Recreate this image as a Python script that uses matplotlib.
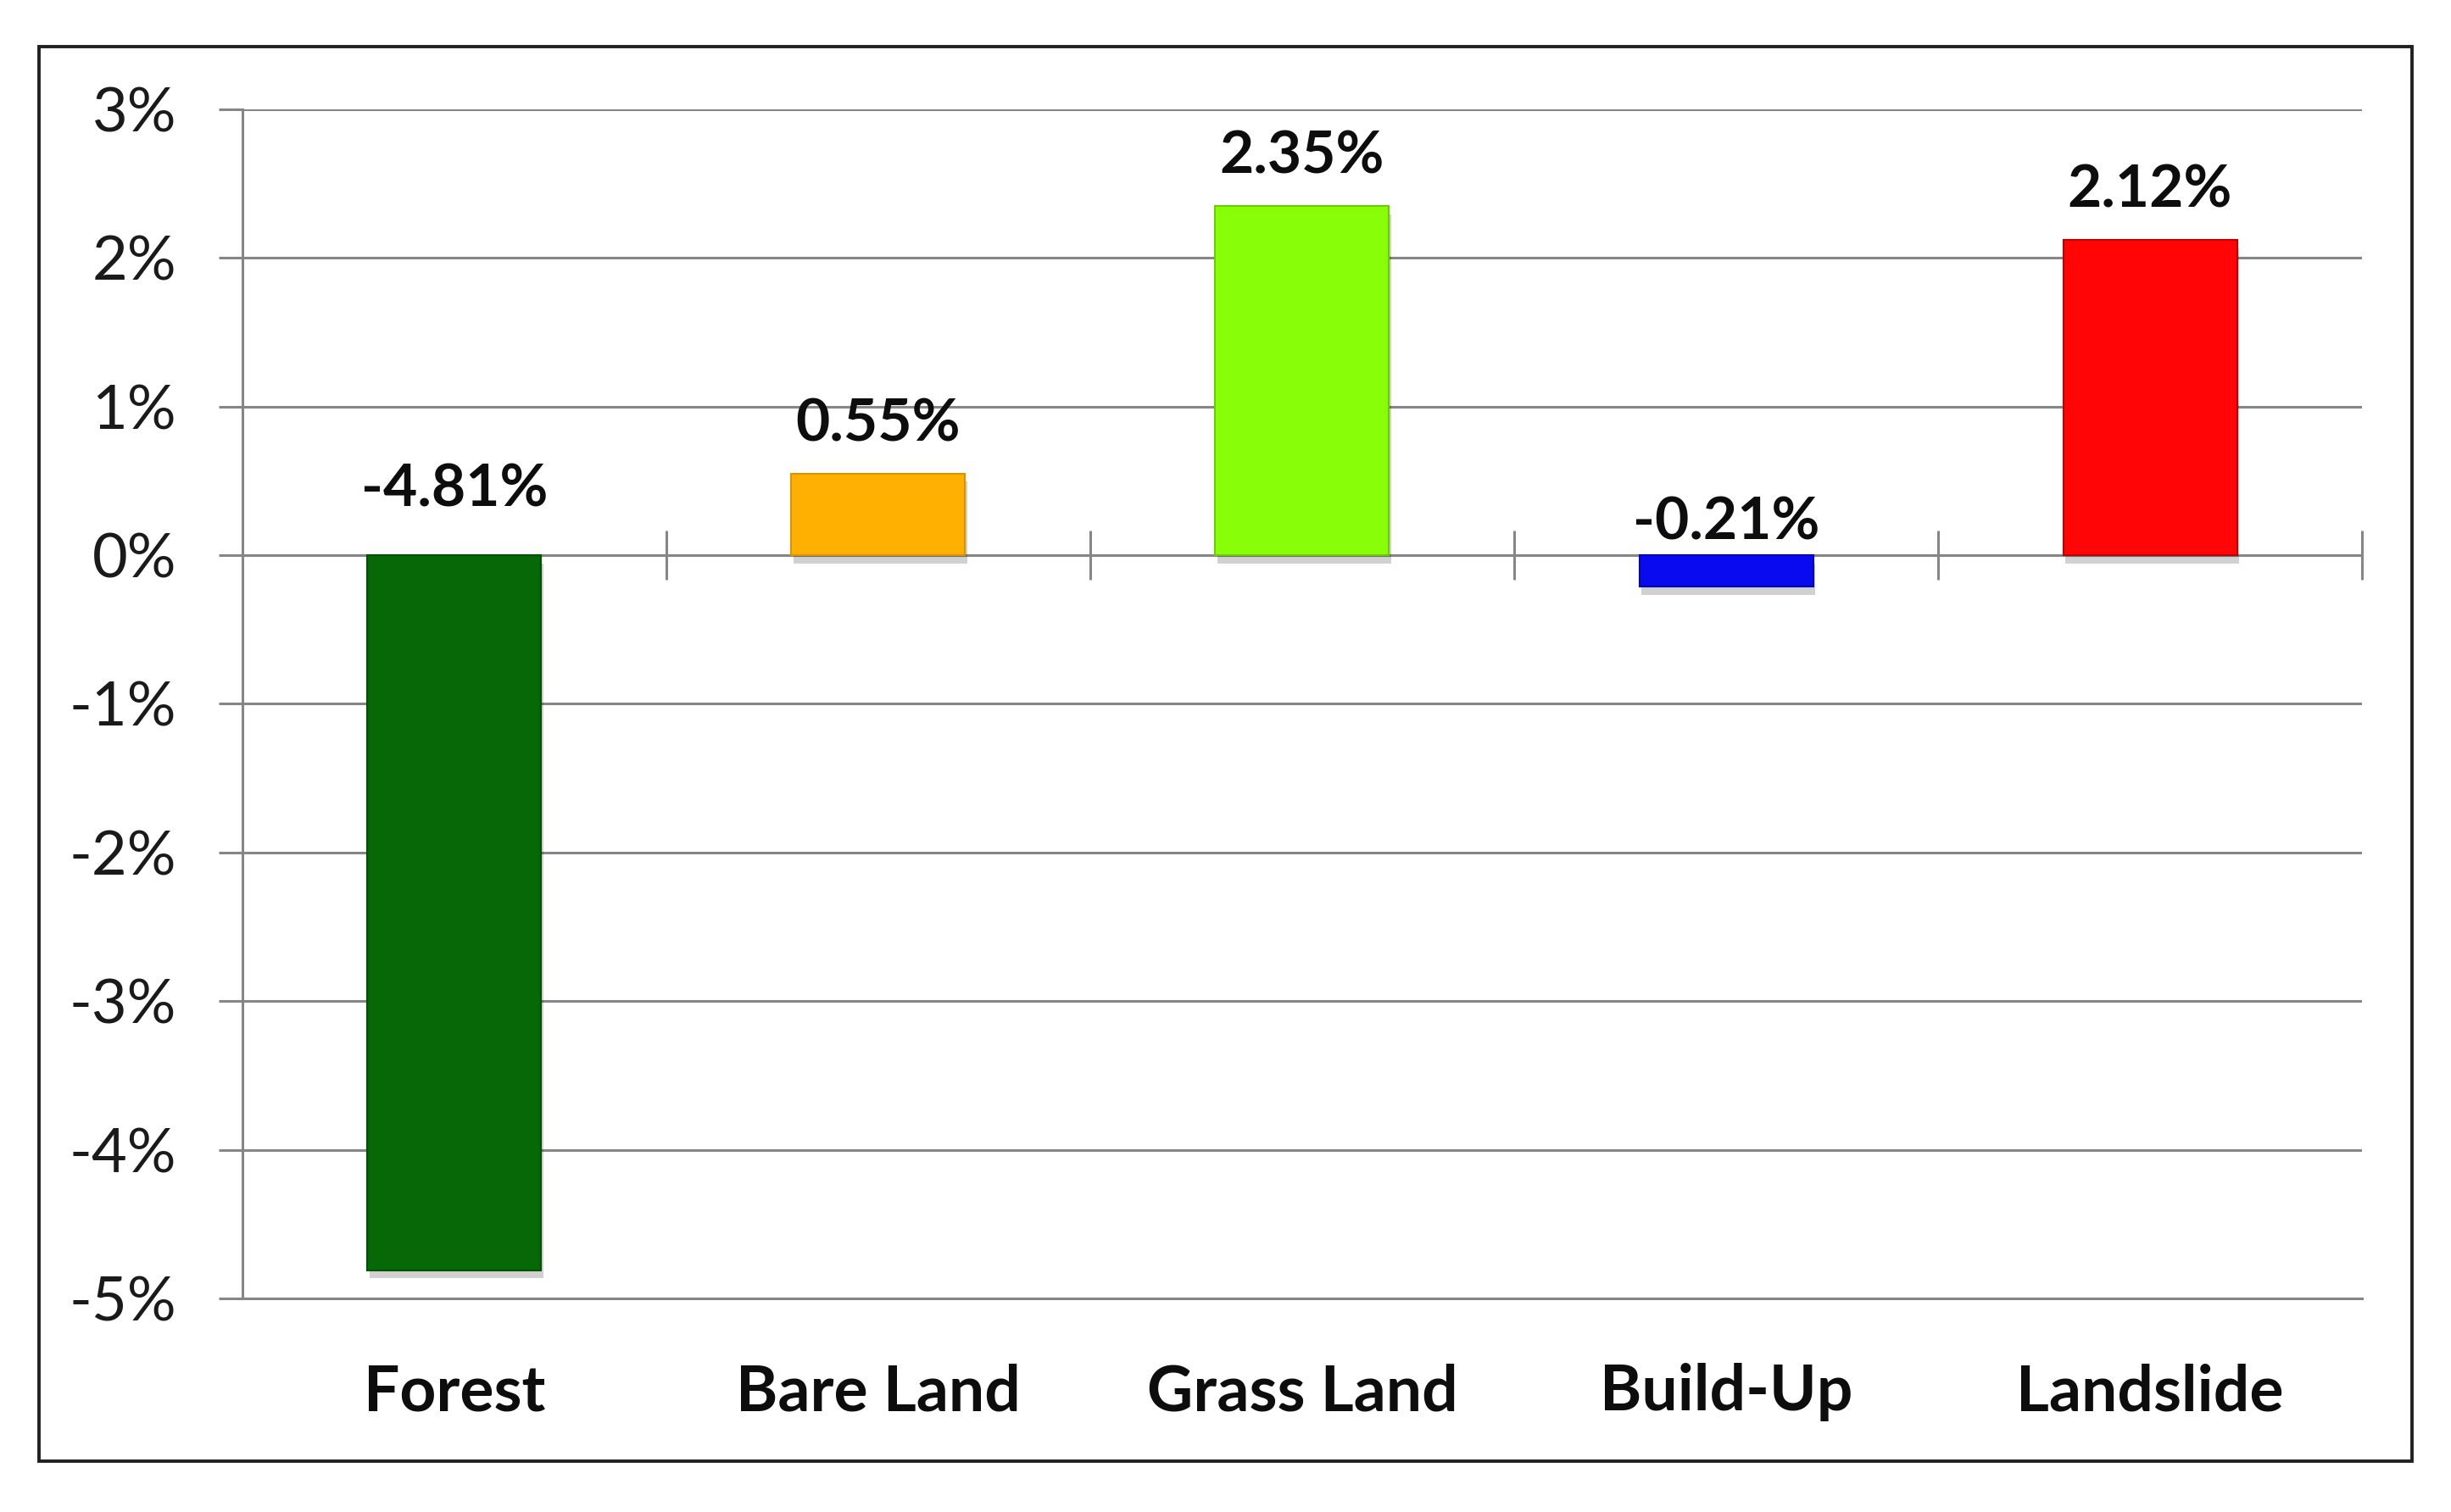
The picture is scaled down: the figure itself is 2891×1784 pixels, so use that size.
import matplotlib
matplotlib.use("Agg")
import matplotlib.pyplot as plt
import matplotlib.patheffects as pe
from matplotlib.patches import Rectangle

categories = ["Forest", "Bare Land", "Grass Land", "Build-Up", "Landslide"]
values = [-4.81, 0.55, 2.35, -0.21, 2.12]
value_labels = ["-4.81%", "0.55%", "2.35%", "-0.21%", "2.12%"]
y_ticks = [3, 2, 1, 0, -1, -2, -3, -4, -5]
y_tick_labels = ["3%", "2%", "1%", "0%", "-1%", "-2%", "-3%", "-4%", "-5%"]

colors = ["#066806", "#FFB000", "#88FF08", "#0A0AF0", "#FF0505"]
edge_colors = ["#045004", "#D99400", "#6CCC00", "#0505B0", "#C00000"]
label_offsets_pt = [33, 19, 19, 5, 19]

plt.rcParams['font.family'] = ['Lato', 'DejaVu Sans']

fig = plt.figure(figsize=(28.91, 17.84), dpi=100)
ax = fig.add_axes([0.0989, 0.1413, 0.9637 - 0.0989, 0.9277 - 0.1413])

grid_color = "#868686"
x = list(range(len(categories)))
bars = ax.bar(x, values, width=0.41, color=colors, edgecolor=edge_colors,
              linewidth=1.5, zorder=3)
for b in bars:
    b.set_path_effects([pe.SimplePatchShadow(offset=(2, -7), shadow_rgbFace="#000000", alpha=0.18),
                        pe.Normal()])

ax.set_xlim(-0.5, len(categories) - 0.5)
ax.set_ylim(-5, 3)
ax.set_yticks(y_ticks)
ax.set_yticklabels(y_tick_labels, fontsize=52, color="#1a1a1a")
ax.yaxis.grid(True, color=grid_color, linewidth=2.2, zorder=1)
ax.set_axisbelow(True)
ax.tick_params(axis='y', length=20, width=2.2, color=grid_color, pad=36, direction='out')

ax.set_xticks(x)
ax.set_xticklabels(categories, fontsize=54, fontweight='bold', color="#0d0d0d")
ax.tick_params(axis='x', length=0, pad=55)

for s in ["top", "right"]:
    ax.spines[s].set_visible(False)
ax.spines["left"].set_color(grid_color)
ax.spines["left"].set_linewidth(2.2)
ax.spines["bottom"].set_color(grid_color)
ax.spines["bottom"].set_linewidth(2.2)

# zero axis with category boundary ticks
zero_loc = (0 - (-5)) / (3 - (-5))
sec = ax.secondary_xaxis(zero_loc)
sec.set_xticks([i + 0.5 for i in x])
sec.set_xticklabels([])
sec.tick_params(axis='x', direction='inout', length=42, width=2.2, color=grid_color)
sec.spines["bottom"].set_color(grid_color)
sec.spines["bottom"].set_linewidth(2.2)
sec.spines["top"].set_color(grid_color)
sec.spines["top"].set_linewidth(2.2)

for xi, v, lab, off in zip(x, values, value_labels, label_offsets_pt):
    ax.annotate(lab, (xi, max(v, 0)), xytext=(0, off), textcoords='offset points',
                ha='center', va='bottom', fontsize=50, fontweight='bold', color="#0d0d0d",
                zorder=5)

fig.patches.append(Rectangle((46 / 2891, 60 / 1784), (2845 - 46) / 2891, (1729 - 60) / 1784,
                             transform=fig.transFigure, fill=False, edgecolor="#231f20",
                             linewidth=2.8))

fig.savefig("out.png", dpi=100, facecolor="white")
